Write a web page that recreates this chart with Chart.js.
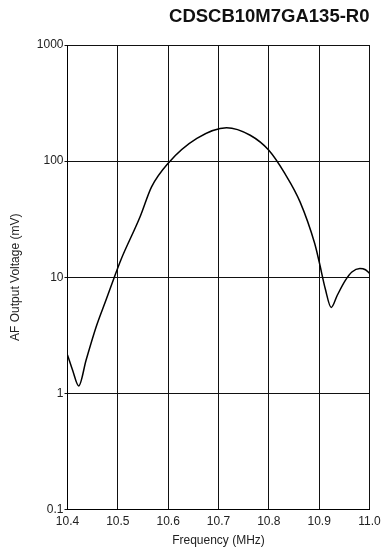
<!DOCTYPE html>
<html>
<head>
<meta charset="utf-8">
<script src="https://cdn.jsdelivr.net/npm/chart.js@4/dist/chart.umd.min.js"></script>
<style>
  html, body { margin: 0; padding: 0; background: #fff; }
  #wrap { width: 382px; height: 550px; }
</style>
</head>
<body>
<div id="wrap"><canvas id="c" width="382" height="550"></canvas></div>
<script>
const chartTitle = "CDSCB10M7GA135-R0";
const xTitle = "Frequency (MHz)";
const yTitle = "AF Output Voltage (mV)";
const xTicks = [10.4, 10.5, 10.6, 10.7, 10.8, 10.9, 11.0];
const yTicks = [0.1, 1, 10, 100, 1000];
const freq = [10.400, 10.410, 10.4223, 10.437, 10.457, 10.4765, 10.493, 10.506, 10.544, 10.567, 10.600, 10.657, 10.716, 10.763, 10.800, 10.832, 10.862, 10.891, 10.900, 10.912, 10.924, 10.936, 10.952, 10.965, 10.981, 10.992, 11.000];
const voltage = [2.14, 1.59, 1.16, 1.94, 3.75, 6.37, 10.0, 14.1, 33, 60, 96, 157, 194, 167, 124, 78, 44.6, 19.6, 13.6, 8.0, 5.5, 7.0, 9.4, 11.1, 11.9, 11.6, 10.8];

const points = freq.map((f, i) => ({ x: f, y: voltage[i] }));
const font = { family: "'Liberation Sans', Arial, sans-serif", size: 12 };

new Chart(document.getElementById('c'), {
  type: 'line',
  data: {
    datasets: [{
      data: points,
      borderColor: '#000',
      borderWidth: 1.5,
      pointRadius: 0,
      fill: false,
      cubicInterpolationMode: 'monotone'
    }]
  },
  options: {
    responsive: false,
    animation: false,
    layout: { padding: { left: 0, right: 12.5, top: 0, bottom: 0 } },
    plugins: {
      legend: { display: false },
      tooltip: { enabled: false },
      title: {
        display: true,
        text: chartTitle,
        align: 'end',
        color: '#111',
        font: { family: "'Liberation Sans', Arial, sans-serif", size: 18.5, weight: 'bold' },
        padding: { top: 5.7, bottom: 17.1 }
      }
    },
    scales: {
      x: {
        type: 'linear',
        min: 10.4,
        max: 11.0,
        afterBuildTicks: (s) => { s.ticks = xTicks.map(v => ({ value: v })); },
        afterFit: (s) => { s.height = 40.5; s.paddingLeft = 0; s.paddingRight = 0; },
        ticks: {
          color: '#222',
          font: font,
          padding: 5,
          maxRotation: 0,
          callback: (v) => Number(v).toFixed(1)
        },
        grid: { color: '#111', lineWidth: 1, drawTicks: false },
        border: { color: '#000', width: 1 },
        title: { display: true, text: xTitle, color: '#222', font: font, padding: { top: 0, bottom: 1.8 } }
      },
      y: {
        type: 'logarithmic',
        min: 0.1,
        max: 1000,
        afterBuildTicks: (s) => { s.ticks = yTicks.map(v => ({ value: v })); },
        afterFit: (s) => { s.width = 67.5; s.paddingTop = 0; s.paddingBottom = 0; },
        ticks: {
          color: '#222',
          font: font,
          padding: 1,
          callback: (v) => String(v)
        },
        grid: { color: '#111', lineWidth: 1, tickLength: 3 },
        border: { color: '#000', width: 1 },
        title: { display: true, text: yTitle, color: '#222', font: font, padding: { top: 8, bottom: 0 } }
      }
    }
  }
});
</script>
</body>
</html>
